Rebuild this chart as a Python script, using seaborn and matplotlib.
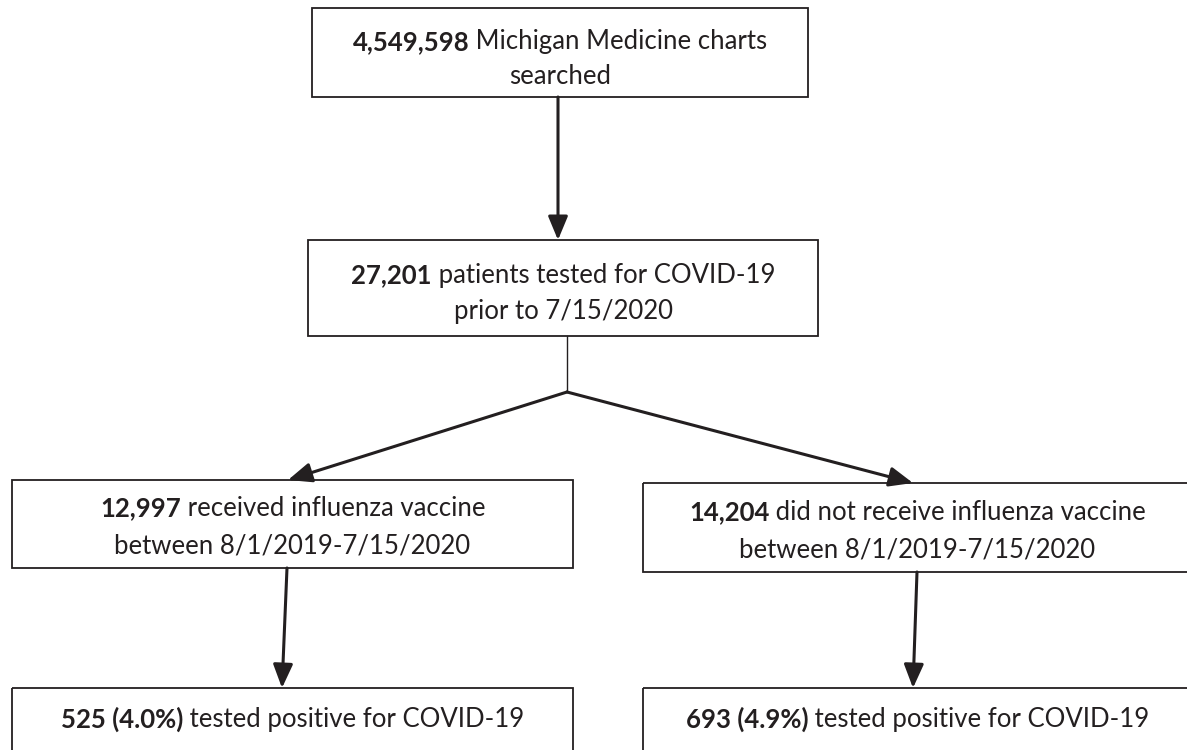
import matplotlib
matplotlib.use("Agg")
import matplotlib.pyplot as plt
import seaborn as sns

# counts from the flow diagram
charts_searched = 4549598
tested_covid = 27201
flu_vaccinated = 12997
not_vaccinated = 14204
pos_vaccinated = 525
pos_not_vaccinated = 693

pct_vacc = 100 * pos_vaccinated / flu_vaccinated
pct_not = 100 * pos_not_vaccinated / not_vaccinated

# each box: list of lines, each line a list of (text, bold)
box_texts = [
    [[(f"{charts_searched:,}", True), (" Michigan Medicine charts", False)],
     [("searched", False)]],
    [[(f"{tested_covid:,}", True), (" patients tested for COVID-19", False)],
     [("prior to 7/15/2020", False)]],
    [[(f"{flu_vaccinated:,}", True), (" received influenza vaccine", False)],
     [("between 8/1/2019-7/15/2020", False)]],
    [[(f"{not_vaccinated:,}", True), (" did not receive influenza vaccine", False)],
     [("between 8/1/2019-7/15/2020", False)]],
    [[(f"{pos_vaccinated} ({pct_vacc:.1f}%)", True), (" tested positive for COVID-19", False)]],
    [[(f"{pos_not_vaccinated} ({pct_not:.1f}%)", True), (" tested positive for COVID-19", False)]],
]

# layout in pixels (x0, y0, x1, y1), y downwards
box_rects = [
    (312, 8, 808, 97),
    (308, 240, 818, 336),
    (12, 480, 573, 568),
    (643, 483, 1192, 572),
    (12, 688, 573, 760),
    (643, 688, 1192, 760),
]
line_y = [[42, 77], [275, 311], [508, 546], [512, 550], [719], [719]]

ink = "#231f20"
font = "Lato"
fsize = 18.5

sns.set_theme(style="white")
plt.rcParams["font.family"] = [font, "DejaVu Sans"]

fig = plt.figure(figsize=(11.87, 7.5), dpi=100)
ax = fig.add_axes([0, 0, 1, 1])
ax.set_xlim(0, 1187)
ax.set_ylim(750, 0)
ax.axis("off")

renderer = fig.canvas.get_renderer()


def rich_line(xc, y, parts):
    texts = []
    widths = []
    for s, bold in parts:
        t = ax.text(0, y, s, fontsize=fsize, color=ink, va="center", ha="left",
                    fontweight="bold" if bold else "normal")
        texts.append(t)
        widths.append(t.get_window_extent(renderer).width)
    x = xc - sum(widths) / 2
    for t, w in zip(texts, widths):
        t.set_x(x)
        x += w


for rect, lines, ys in zip(box_rects, box_texts, line_y):
    x0, y0, x1, y1 = rect
    ax.add_patch(plt.Rectangle((x0, y0), x1 - x0, y1 - y0, fill=False,
                               edgecolor=ink, lw=1.3))
    xc = (x0 + x1) / 2
    for parts, y in zip(lines, ys):
        rich_line(xc, y, parts)

arrow_kw = dict(arrowstyle="-|>,head_length=1.2,head_width=0.5", color=ink,
                lw=2.2, shrinkA=0, shrinkB=0)

# top arrow
ax.annotate("", xy=(558, 240), xytext=(558, 97), arrowprops=arrow_kw)
# branch stem
ax.plot([567, 567], [336, 392], color=ink, lw=1.0)
ax.annotate("", xy=(288, 480), xytext=(567, 392), arrowprops=arrow_kw)
ax.annotate("", xy=(913, 483), xytext=(567, 392), arrowprops=arrow_kw)
# lower arrows
ax.annotate("", xy=(282, 688), xytext=(287, 568), arrowprops=arrow_kw)
ax.annotate("", xy=(913, 688), xytext=(917, 572), arrowprops=arrow_kw)

fig.savefig("out.png", dpi=100, facecolor="white")
